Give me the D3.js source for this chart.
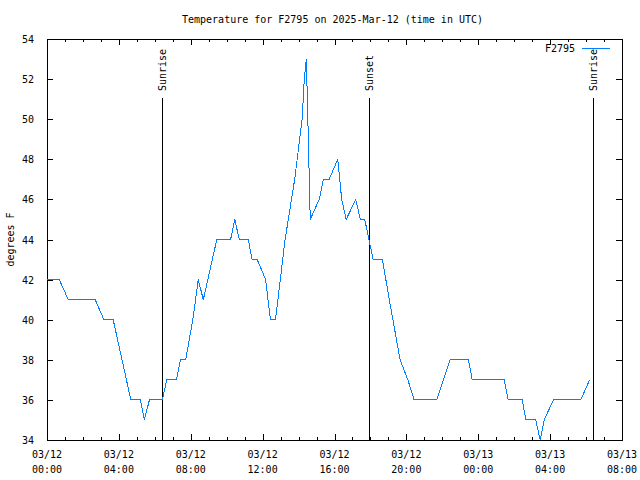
<!DOCTYPE html>
<html>
<head>
<meta charset="utf-8">
<script src="https://cdn.jsdelivr.net/npm/d3@7"></script>
<style>
body { margin: 0; background: #fff; }
svg text { font-family: "DejaVu Sans Mono", monospace; font-size: 10px; fill: #000; }
</style>
</head>
<body>
<div id="chart"></div>
<script>
// readings (UTC)
var times = ["2025-03-12 00:00","2025-03-12 00:41","2025-03-12 01:11","2025-03-12 02:41","2025-03-12 03:10",
    "2025-03-12 03:41","2025-03-12 04:40","2025-03-12 05:12","2025-03-12 05:25","2025-03-12 05:42",
    "2025-03-12 06:25","2025-03-12 06:40","2025-03-12 07:12","2025-03-12 07:26","2025-03-12 07:43",
    "2025-03-12 08:07","2025-03-12 08:25","2025-03-12 08:42","2025-03-12 09:27","2025-03-12 10:13",
    "2025-03-12 10:27","2025-03-12 10:42","2025-03-12 11:12","2025-03-12 11:25","2025-03-12 11:42",
    "2025-03-12 12:10","2025-03-12 12:26","2025-03-12 12:43","2025-03-12 13:15","2025-03-12 13:47",
    "2025-03-12 14:12","2025-03-12 14:19","2025-03-12 14:26","2025-03-12 14:31","2025-03-12 14:39",
    "2025-03-12 15:09","2025-03-12 15:23","2025-03-12 15:42","2025-03-12 16:11","2025-03-12 16:24",
    "2025-03-12 16:39","2025-03-12 17:11","2025-03-12 17:26","2025-03-12 17:41","2025-03-12 18:09",
    "2025-03-12 18:40","2025-03-12 19:03","2025-03-12 19:39","2025-03-12 20:05","2025-03-12 20:26",
    "2025-03-12 21:41","2025-03-12 22:26","2025-03-12 23:27","2025-03-12 23:40","2025-03-13 01:27",
    "2025-03-13 01:40","2025-03-13 02:27","2025-03-13 02:39","2025-03-13 03:12","2025-03-13 03:27",
    "2025-03-13 03:40","2025-03-13 04:11","2025-03-13 05:42","2025-03-13 06:12"];
var temps = [42,42,41,41,40, 40,36,36,35,36, 36,37,37,38,38, 40,42,41,44,44,
    45,44,44,43,43, 42,40,40,44,47, 50,52,53,50,45, 46,47,47,48,46,
    45,46,45,45,43, 43,41,38,37,36, 36,38,38,37,37, 36,36,35,35,34,
    35,36,36,37];

var eventNames = ["Sunrise","Sunset","Sunrise"];
var eventTimes = ["2025-03-12 06:25","2025-03-12 17:55","2025-03-13 06:23"];

var yTicks = [34,36,38,40,42,44,46,48,50,52,54];
var xDomain = ["2025-03-12 00:00","2025-03-13 08:00"];

var seriesName = "F2795";
var title = "Temperature for F2795 on 2025-Mar-12 (time in UTC)";

var W = 640, H = 480;
var L = 47, R = 622, T = 39, B = 440;
var parse = d3.utcParse("%Y-%m-%d %H:%M");

var data = times.map(function(t, i){ return {t: parse(t), v: temps[i]}; });

var svg = d3.select("#chart").append("svg").attr("width", W).attr("height", H);
svg.append("rect").attr("width", W).attr("height", H).attr("fill", "#fff");

var x = d3.scaleUtc().domain(xDomain.map(parse)).range([L, R]);
var y = d3.scaleLinear().domain([34, 54]).range([B, T]);

var majors = d3.utcHour.every(4).range(x.domain()[0], d3.utcHour.offset(x.domain()[1], 1));
var minors = d3.utcHour.every(1).range(x.domain()[0], d3.utcHour.offset(x.domain()[1], 1));

var g = svg.append("g").attr("shape-rendering", "crispEdges");

// x ticks bottom and top, pointing inward
var xb = g.append("g").attr("transform", "translate(0," + B + ")")
    .call(d3.axisBottom(x).tickValues(minors).tickSize(-3).tickFormat(""));
xb.select(".domain").remove();
var xb2 = g.append("g").attr("transform", "translate(0," + B + ")")
    .call(d3.axisBottom(x).tickValues(majors).tickSize(-6).tickFormat(""));
xb2.select(".domain").remove();
var xt = g.append("g").attr("transform", "translate(0," + T + ")")
    .call(d3.axisTop(x).tickValues(minors).tickSize(-3).tickFormat(""));
xt.select(".domain").remove();
var xt2 = g.append("g").attr("transform", "translate(0," + T + ")")
    .call(d3.axisTop(x).tickValues(majors).tickSize(-6).tickFormat(""));
xt2.select(".domain").remove();

var yl = g.append("g").attr("transform", "translate(" + L + ",0)")
    .call(d3.axisLeft(y).tickValues(yTicks).tickSize(-6).tickPadding(13));
yl.select(".domain").remove();
var yr = g.append("g").attr("transform", "translate(" + R + ",0)")
    .call(d3.axisRight(y).tickValues(yTicks).tickSize(-6).tickFormat(""));
yr.select(".domain").remove();
g.selectAll(".tick line").attr("stroke", "#000");
yl.selectAll("text").attr("font-family", null).attr("font-size", null).attr("dy", "0.35em");

// two-line date labels
var fmtD = d3.utcFormat("%m/%d"), fmtT = d3.utcFormat("%H:%M");
var lab = svg.append("g").selectAll("text").data(majors).enter().append("text")
    .attr("x", function(d){ return x(d); })
    .attr("y", B + 18)
    .attr("text-anchor", "middle");
lab.append("tspan").attr("x", function(d){ return x(d); }).text(function(d){ return fmtD(d); });
lab.append("tspan").attr("x", function(d){ return x(d); }).attr("dy", 15).text(function(d){ return fmtT(d); });

// frame
g.append("rect").attr("x", L).attr("y", T).attr("width", R - L).attr("height", B - T)
    .attr("fill", "none").attr("stroke", "#000");

// sunrise / sunset markers
var ev = svg.append("g").selectAll("g").data(eventTimes).enter().append("g");
ev.append("line")
    .attr("x1", function(d){ return Math.round(x(parse(d))) + 0.5; })
    .attr("x2", function(d){ return Math.round(x(parse(d))) + 0.5; })
    .attr("y1", T + 59).attr("y2", B)
    .attr("stroke", "#000").attr("shape-rendering", "crispEdges");
ev.append("text")
    .attr("transform", function(d){ return "translate(" + (x(parse(d)) + 4) + "," + (T + 52) + ") rotate(-90)"; })
    .text(function(d, i){ return eventNames[i]; });

// data line
var line = d3.line().x(function(d){ return x(d.t); }).y(function(d){ return y(d.v); });
svg.append("path").datum(data).attr("d", line)
    .attr("fill", "none").attr("stroke", "#0080ff").attr("stroke-width", 1)
    .attr("shape-rendering", "crispEdges");

// legend
svg.append("text").attr("x", 575).attr("y", 52).attr("text-anchor", "end").text(seriesName);
svg.append("line").attr("x1", 582).attr("x2", 610).attr("y1", 48.5).attr("y2", 48.5)
    .attr("stroke", "#0080ff").attr("shape-rendering", "crispEdges");

// title and axis title
svg.append("text").attr("x", (L + R) / 2 - 2).attr("y", 23).attr("text-anchor", "middle").text(title);
svg.append("text").attr("transform", "translate(14," + ((T + B) / 2) + ") rotate(-90)")
    .attr("text-anchor", "middle").text("degrees F");
</script>
</body>
</html>
